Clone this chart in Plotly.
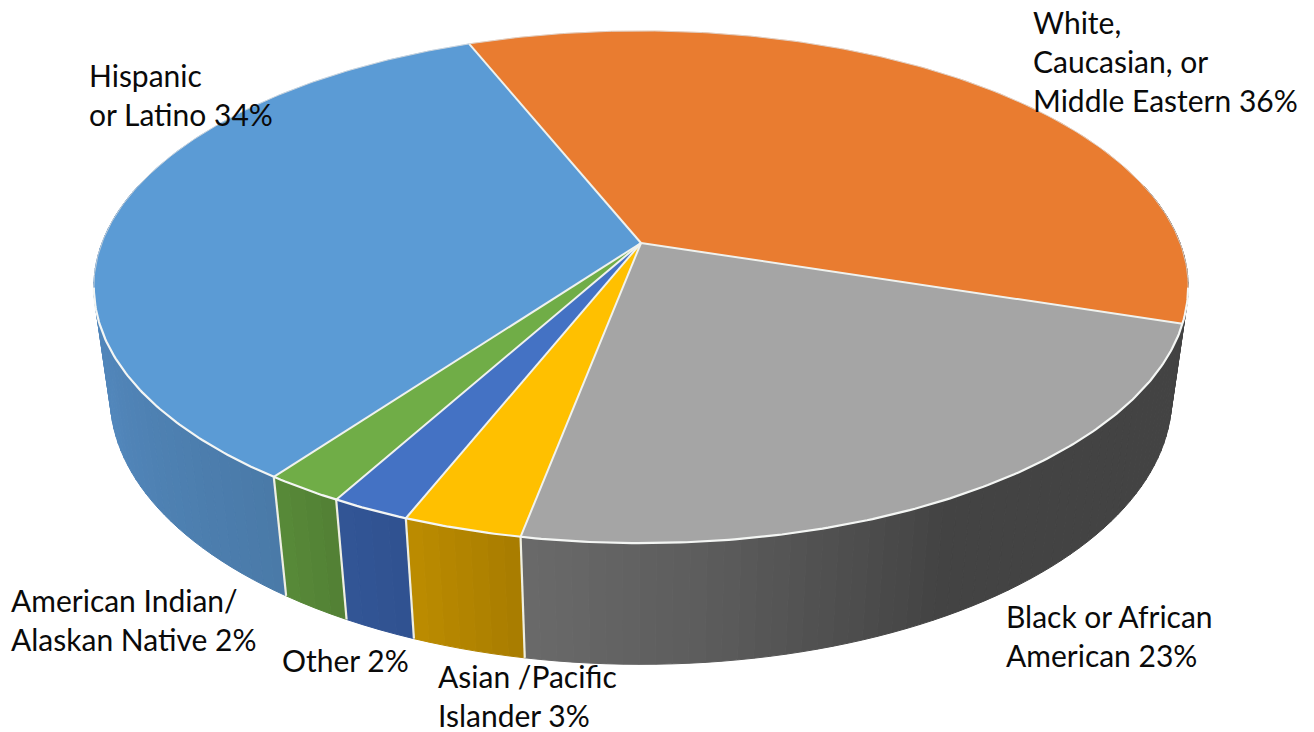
import numpy as np
import plotly.graph_objects as go

# ---- data (percent, clockwise from the first slice) ----
categories = ["White, Caucasian, or Middle Eastern", "Black or African American",
              "Asian /Pacific Islander", "Other", "American Indian/ Alaskan Native",
              "Hispanic or Latino"]
values = [36, 23, 3, 2, 2, 34]
top_colors = ["#E97C30", "#A5A5A5", "#FFC000", "#4472C4", "#70AD47", "#5B9BD5"]
# side wall shading: (position within the slice 0..1, colour)
wall_colors = [
    [(0, "#434343"), (1, "#434343")],
    [(0, "#434343"), (0.52, "#434343"), (0.80, "#5C5C5C"), (1, "#6A6A6A")],
    [(0, "#A87C00"), (1, "#BC8C00")],
    [(0, "#2F5290"), (1, "#335596")],
    [(0, "#528035"), (1, "#588A38")],
    [(0, "#4A7AA8"), (0.30, "#5287BC"), (0.62, "#4E82B4"), (0.8, "#4A7BAC"), (1, "#4A7BAC")],
]
label_texts = ["White,<br>Caucasian, or<br>Middle Eastern 36%",
               "Black or African<br>American 23%",
               "Asian /Pacific<br>Islander 3%",
               "Other 2%",
               "American Indian/<br>Alaskan Native 2%",
               "Hispanic<br>or Latino 34%"]
label_xs = [1032, 1005, 437, 281, 10, 88]
label_ys = [3, 597, 657, 641, 581, 56]

# ---- perspective camera for the disc ----
CX, CY = 641.0, 243.0
A, B, K = 539.0, 248.5, 0.172
START_DEG = -21.7
DROP, WGROW = 113.0, 0.030
FONT = "Lato"
FONT_SIZE = 30


def project(deg, r=1.0, low=False):
    t = np.radians(deg)
    X, Y = r * np.sin(t), r * np.cos(t)
    w = 1 + K * Y + (WGROW if low else 0.0)
    return CX + A * X / w, CY + (-B * Y + (DROP if low else 0.0)) / w


def hex2rgb(h):
    return np.array([int(h[i:i + 2], 16) for i in (1, 3, 5)], float)


def shade(stops, f):
    ps = [s[0] for s in stops]
    cs = np.array([hex2rgb(s[1]) for s in stops])
    r = [np.interp(f, ps, cs[:, i]) for i in range(3)]
    return "rgb(%d,%d,%d)" % tuple(round(v) for v in r)


edges = START_DEG + np.concatenate([[0], np.cumsum(values)]) * 360.0 / sum(values)
fig = go.Figure()


def poly(xs, ys, color, line_color=None, width=1.0):
    fig.add_trace(go.Scatter(x=list(xs), y=list(ys), mode="lines", fill="toself",
                             fillcolor=color, hoverinfo="skip",
                             line=dict(color=line_color or color, width=width)))


def line(xs, ys, color, width):
    fig.add_trace(go.Scatter(x=list(xs), y=list(ys), mode="lines", hoverinfo="skip",
                             line=dict(color=color, width=width)))


# side wall, built from narrow strips so that the shading changes along the rim
STEP = 1.5
for i in range(len(values)):
    a0, a1 = edges[i], edges[i + 1]
    n = max(2, int((a1 - a0) / STEP))
    grid = np.linspace(a0, a1, n + 1)
    for j in range(n):
        d0, d1 = grid[j], grid[j + 1]
        mid = np.radians((d0 + d1) / 2)
        if np.cos(mid) > 0.25:
            continue
        x0, y0 = project(d0)
        x1, y1 = project(d1)
        x2, y2 = project(d1, low=True)
        x3, y3 = project(d0, low=True)
        c = shade(wall_colors[i], ((d0 + d1) / 2 - a0) / (a1 - a0))
        poly([x0, x1, x2, x3, x0], [y0, y1, y2, y3, y0], c)

# wall separators
for i in range(len(values)):
    d = edges[i]
    if 110 < (d % 360) < 270:
        x0, y0 = project(d)
        x1, y1 = project(d, low=True)
        line([x0, x1], [y0, y1], "#EFEFE2", 2.2)

# top faces
for i in range(len(values)):
    rim = np.linspace(edges[i], edges[i + 1], 200)
    xs, ys = project(rim)
    poly(np.r_[CX, xs, CX], np.r_[CY, ys, CY], top_colors[i], top_colors[i], 0.5)

# spokes
for i in range(len(values)):
    x1, y1 = project(edges[i])
    line([CX, x1], [CY, y1], "#F0F2EE", 2.0)

# front rim is bright, back rim is a fine grey hairline
back = np.linspace(-100, 100, 300)
xs, ys = project(back)
line(xs, ys, "#DCDCDC", 0.8)
front = np.linspace(100, 260, 300)
xs, ys = project(front)
line(xs, ys, "#F4F6F4", 2.2)

for t, x, y in zip(label_texts, label_xs, label_ys):
    fig.add_annotation(x=x, y=y, text=t, showarrow=False, xanchor="left", yanchor="top",
                       align="left", xref="x", yref="y", borderpad=0,
                       font=dict(family=FONT, size=FONT_SIZE, color="#0A0A0A"))

fig.update_layout(
    width=1314, height=732, margin=dict(l=0, r=0, t=0, b=0),
    paper_bgcolor="white", plot_bgcolor="white", showlegend=False,
    xaxis=dict(range=[0, 1314], visible=False, fixedrange=True),
    yaxis=dict(range=[732, 0], visible=False, fixedrange=True),
)
fig.write_html("out.html", config={"displayModeBar": False},
               post_script="document.body.style.margin='0';document.body.style.overflow='hidden';")
